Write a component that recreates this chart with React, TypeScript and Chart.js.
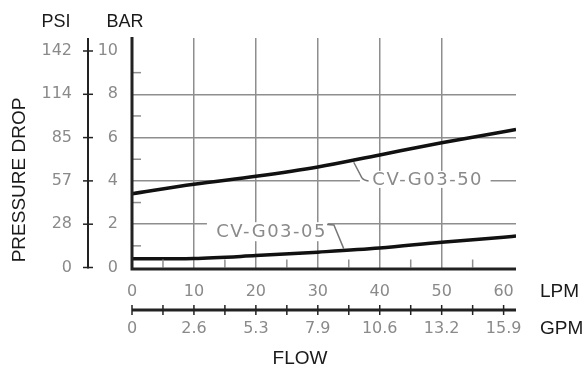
import React, { useEffect, useRef } from "react";
import { Chart, registerables } from "chart.js";

Chart.register(...registerables);

// ---- data ----
const FLOW_LPM = [0, 10, 20, 30, 40, 50, 60, 62];
const CV_G03_50 = [3.41, 3.85, 4.21, 4.64, 5.2, 5.76, 6.27, 6.37];
const CV_G03_05 = [0.4, 0.42, 0.55, 0.71, 0.9, 1.17, 1.4, 1.45];

const LPM_TICKS = [0, 10, 20, 30, 40, 50, 60];
const LPM_MINOR = [5, 15, 25, 35, 45, 55];
const GPM_LABELS = ["0", "2.6", "5.3", "7.9", "10.6", "13.2", "15.9"];
const BAR_TICKS = [0, 2, 4, 6, 8, 10];
const BAR_MINOR = [1, 3, 5, 7, 9];
const PSI_LABELS = ["0", "28", "57", "85", "114", "142"];

const SERIES_NAMES = ["CV-G03-50", "CV-G03-05"];

const GRID = "#8e8e8e";
const TICK_TEXT = "#8a8a8a";
const TICK_FONT = '16px "DejaVu Sans", sans-serif';
const ANNO_FONT = '18px "DejaVu Sans", sans-serif';
const TITLE_FONT = '19px "Liberation Sans", Arial, sans-serif';
const TITLE_FONT_S = '18px "Liberation Sans", Arial, sans-serif';

const decor = {
  id: "decor",
  beforeDatasetsDraw(chart: any) {
    const ctx = chart.ctx;
    const x = chart.scales.x;
    const y = chart.scales.y;
    ctx.save();
    ctx.fillStyle = "#ffffff";
    // break in grid behind upper label
    const ux0 = x.getPixelForValue(36.8);
    const ux1 = x.getPixelForValue(57.9);
    const uy = y.getPixelForValue(4);
    ctx.fillRect(ux0, uy - 10, ux1 - ux0, 17);
    // break behind lower label
    const lx0 = x.getPixelForValue(12.1);
    const lx1 = x.getPixelForValue(31.6);
    const ly = y.getPixelForValue(2);
    ctx.fillRect(lx0, ly - 2, lx1 - lx0, 19);
    ctx.restore();
  },
  afterDraw(chart: any) {
    const ctx = chart.ctx;
    const x = chart.scales.x;
    const y = chart.scales.y;
    const area = chart.chartArea;
    ctx.save();

    // minor ticks inside plot
    ctx.strokeStyle = GRID;
    ctx.lineWidth = 1.5;
    BAR_MINOR.forEach((v) => {
      const py = y.getPixelForValue(v);
      ctx.beginPath();
      ctx.moveTo(area.left, py);
      ctx.lineTo(area.left + 9, py);
      ctx.stroke();
    });
    LPM_MINOR.forEach((v) => {
      const px = x.getPixelForValue(v);
      ctx.beginPath();
      ctx.moveTo(px, area.bottom);
      ctx.lineTo(px, area.bottom - 8);
      ctx.stroke();
    });

    // main axes
    ctx.strokeStyle = "#222";
    ctx.lineWidth = 3;
    ctx.beginPath();
    ctx.moveTo(area.left, area.top - 1);
    ctx.lineTo(area.left, area.bottom + 1.5);
    ctx.lineTo(area.right, area.bottom + 1.5);
    ctx.stroke();

    // PSI axis
    const psiX = 88;
    ctx.lineWidth = 2;
    ctx.beginPath();
    ctx.moveTo(psiX, area.top);
    ctx.lineTo(psiX, area.bottom + 1);
    ctx.stroke();
    ctx.lineWidth = 1.5;
    BAR_TICKS.forEach((v) => {
      const py = y.getPixelForValue(v);
      ctx.beginPath();
      ctx.moveTo(psiX - 5, py);
      ctx.lineTo(psiX + 5, py);
      ctx.stroke();
    });

    // GPM axis
    const gpmY = 310;
    ctx.lineWidth = 3;
    ctx.beginPath();
    ctx.moveTo(area.left, gpmY);
    ctx.lineTo(area.right, gpmY);
    ctx.stroke();
    ctx.lineWidth = 1.5;
    [...LPM_TICKS, ...LPM_MINOR].forEach((v) => {
      const px = x.getPixelForValue(v);
      ctx.beginPath();
      ctx.moveTo(px, gpmY - 5);
      ctx.lineTo(px, gpmY + 5);
      ctx.stroke();
    });

    // tick labels
    ctx.fillStyle = TICK_TEXT;
    ctx.font = TICK_FONT;
    ctx.textBaseline = "middle";
    ctx.textAlign = "right";
    BAR_TICKS.forEach((v, i) => {
      const py = y.getPixelForValue(v);
      ctx.fillText(String(v), 118, py);
      ctx.fillText(PSI_LABELS[i], 72, py);
    });
    ctx.textAlign = "center";
    LPM_TICKS.forEach((v, i) => {
      const px = x.getPixelForValue(v);
      ctx.fillText(String(v), px, 292);
      ctx.fillText(GPM_LABELS[i], px, 329);
    });

    // titles
    ctx.fillStyle = "#1a1a1a";
    ctx.font = TITLE_FONT_S;
    ctx.textAlign = "center";
    ctx.fillText("PSI", 56, 22);
    ctx.fillText("BAR", 125, 22);
    ctx.textAlign = "left";
    ctx.font = TITLE_FONT;
    ctx.fillText("LPM", 540, 292);
    ctx.fillText("GPM", 540, 329);
    ctx.textAlign = "center";
    ctx.fillText("FLOW", 300, 359);
    ctx.save();
    ctx.translate(20, 180);
    ctx.rotate(-Math.PI / 2);
    ctx.fillText("PRESSURE DROP", 0, 0);
    ctx.restore();

    // annotations
    ctx.fillStyle = TICK_TEXT;
    ctx.strokeStyle = "#777";
    ctx.lineWidth = 1.5;
    ctx.font = ANNO_FONT;
    ctx.textAlign = "left";
    ctx.textBaseline = "middle";
    try {
      (ctx as any).letterSpacing = "1.5px";
    } catch (e) {}
    // upper
    const tU = x.getPixelForValue(38.8);
    const yU = y.getPixelForValue(4) - 1;
    ctx.fillText(SERIES_NAMES[0], tU, yU);
    ctx.beginPath();
    ctx.moveTo(x.getPixelForValue(35.8), y.getPixelForValue(4.86));
    ctx.lineTo(x.getPixelForValue(37.1), y.getPixelForValue(4.15));
    ctx.quadraticCurveTo(
      x.getPixelForValue(37.4),
      y.getPixelForValue(4.02),
      x.getPixelForValue(38.2),
      y.getPixelForValue(4.0)
    );
    ctx.stroke();
    // lower
    const tL = x.getPixelForValue(13.6);
    const yL = y.getPixelForValue(1.62);
    ctx.fillText(SERIES_NAMES[1], tL, yL);
    ctx.beginPath();
    ctx.moveTo(x.getPixelForValue(31.5), y.getPixelForValue(1.99));
    ctx.lineTo(x.getPixelForValue(32.6), y.getPixelForValue(1.96));
    ctx.lineTo(x.getPixelForValue(34.2), y.getPixelForValue(0.86));
    ctx.stroke();
    try {
      (ctx as any).letterSpacing = "0px";
    } catch (e) {}

    ctx.restore();
  },
};

export default function App() {
  const ref = useRef<HTMLCanvasElement | null>(null);
  useEffect(() => {
    if (!ref.current) return;
    const mk = (vals: number[]) => FLOW_LPM.map((xv, i) => ({ x: xv, y: vals[i] }));
    const chart = new Chart(ref.current, {
      type: "line",
      data: {
        datasets: [
          {
            label: SERIES_NAMES[0],
            data: mk(CV_G03_50),
            borderColor: "#111",
            borderWidth: 3.5,
            pointRadius: 0,
            cubicInterpolationMode: "monotone",
            fill: false,
          },
          {
            label: SERIES_NAMES[1],
            data: mk(CV_G03_05),
            borderColor: "#111",
            borderWidth: 3.5,
            pointRadius: 0,
            cubicInterpolationMode: "monotone",
            fill: false,
          },
        ],
      },
      options: {
        responsive: false,
        animation: false,
        devicePixelRatio: 1,
        layout: { padding: { left: 132, top: 38, right: 69, bottom: 103.5 } },
        plugins: { legend: { display: false }, tooltip: { enabled: false } },
        scales: {
          x: {
            type: "linear",
            min: 0,
            max: 62,
            ticks: { display: false, stepSize: 10 },
            grid: {
              drawTicks: false,
              lineWidth: 1.5,
              color: (c: any) =>
                c.tick && c.tick.value > 0 && c.tick.value <= 60 && c.tick.value % 10 === 0
                  ? GRID
                  : "rgba(0,0,0,0)",
            },
            border: { display: false },
            afterFit: (s: any) => {
              s.height = 0;
            },
          },
          y: {
            type: "linear",
            min: 0,
            max: 10.6,
            ticks: { display: false, stepSize: 2 },
            grid: {
              drawTicks: false,
              lineWidth: 1.5,
              color: (c: any) =>
                c.tick && c.tick.value > 0 && c.tick.value <= 10 && c.tick.value % 2 === 0
                  ? GRID
                  : "rgba(0,0,0,0)",
            },
            border: { display: false },
            afterFit: (s: any) => {
              s.width = 0;
            },
          },
        },
      } as any,
      plugins: [decor],
    });
    return () => chart.destroy();
  }, []);
  return (
    <div style={{ position: "fixed", left: 0, top: 0, width: 585, height: 371, background: "#fff" }}>
      <canvas ref={ref} width={585} height={371} style={{ display: "block" }} />
    </div>
  );
}
